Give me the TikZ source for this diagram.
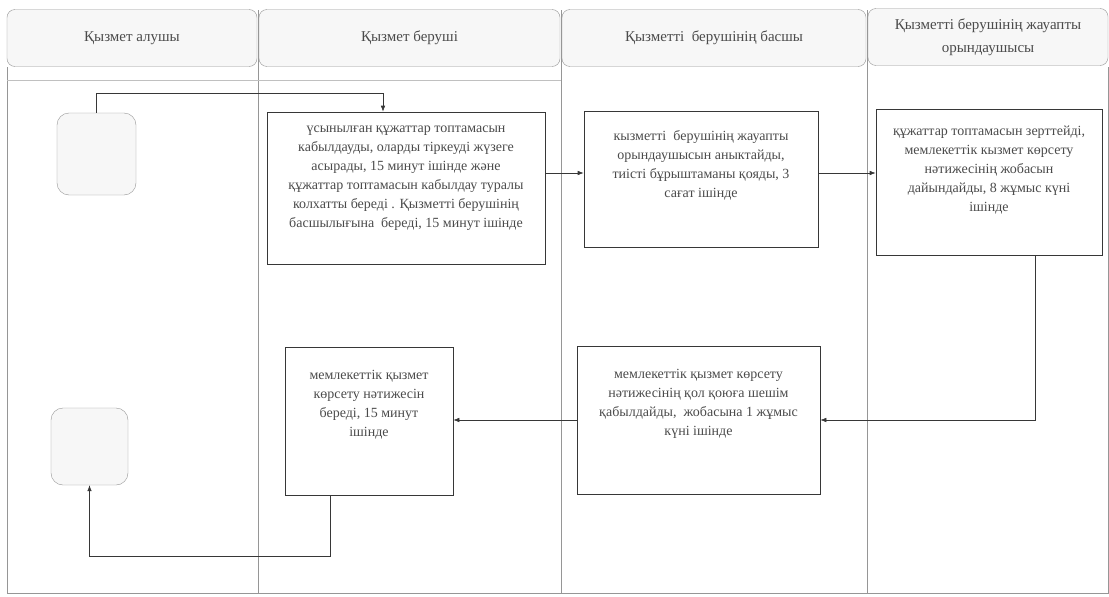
\documentclass[tikz,border=0pt]{standalone}
\usepackage{fontspec}
\setmainfont{Liberation Serif}
\usepackage{tikz}
\usetikzlibrary{arrows.meta,positioning}
\definecolor{laneline}{RGB}{150,150,150}
\definecolor{headfill}{RGB}{247,247,247}
\definecolor{boxline}{RGB}{55,55,55}
\definecolor{textgray}{RGB}{75,75,75}

\begin{document}
\begin{tikzpicture}[x=1pt,y=-1pt,
    lanehead/.style={draw=laneline,fill=headfill,rounded corners=8pt,minimum height=57pt,
      font=\fontsize{15}{23}\selectfont,text=textgray,align=center,inner sep=0pt},
    stepbox/.style={draw=boxline,semithick,fill=white,inner sep=0pt},
    boxtext/.style={font=\fontsize{14}{19}\selectfont,text=textgray,align=center,inner sep=0pt},
    terminal/.style={draw=laneline,fill=headfill,rounded corners=12pt,inner sep=0pt},
    flow/.style={draw=boxline,semithick,-{Latex[length=6pt,width=4.5pt]}}]
        \useasboundingbox (0,0) rectangle (1109,597);
        \fill[white] (0,0) rectangle (1109,597);
        \draw[laneline] (7,67) -- (7,593) -- (1108,593) -- (1108,67);
        \draw[laneline] (258,10) -- (258,593);
        \draw[laneline] (561,10) -- (561,593);
        \draw[laneline] (867,10) -- (867,593);
        \draw[laneline!60] (7,80) -- (561,80);
        \node[lanehead,minimum width=250pt] (h1) at (132,38) {Қызмет алушы};
        \node[lanehead,minimum width=301pt] (h2) at (409.5,38) {Қызмет беруші};
        \node[lanehead,minimum width=304pt] (h3) at (714,38) {Қызметті\ \ берушінің басшы};
        \node[lanehead,minimum width=240pt] (h4) at (988,37) {Қызметті берушінің жауапты\\орындаушысы};
        \node[terminal,minimum width=79pt,minimum height=82pt] (start) at (96.5,154) {};
        \node[terminal,minimum width=77pt,minimum height=77pt] (fin) at (89.5,446.5) {};
        \node[stepbox,minimum width=278pt,minimum height=152pt] (b1) at (406,188) {};
        \node[stepbox,minimum width=234pt,minimum height=136pt] (b2) at (701,179) {};
        \node[stepbox,minimum width=226pt,minimum height=146pt] (b3) at (989,182) {};
        \node[stepbox,minimum width=243pt,minimum height=148pt] (b4) at (698.5,420) {};
        \node[stepbox,minimum width=168pt,minimum height=148pt] (b5) at (369,421) {};
        \node[boxtext] (t1) at ([yshift=10pt]b1.center) {үсынылған құжаттар топтамасын\\кабылдауды, оларды тіркеуді жүзеге\\асырады, 15 минут ішінде және\\құжаттар топтамасын кабылдау туралы\\колхатты береді . Қызметті берушінің\\басшылығына\ \ береді, 15 минут ішінде};
        \node[boxtext] (t2) at ([yshift=14pt]b2.center) {кызметті\ \ берушінің жауапты\\орындаушысын аныктайды,\\тиісті бұрыштаманы қояды, 3\\сағат ішінде};
        \node[boxtext] (t3) at ([yshift=12pt]b3.center) {құжаттар топтамасын зерттейді,\\мемлекеттік кызмет көрсету\\нәтижесінің жобасын\\дайындайды, 8 жұмыс күні\\ішінде};
        \node[boxtext] (t4) at ([yshift=16pt]b4.center) {мемлекеттік қызмет көрсету\\нәтижесінің қол қоюға шешім\\қабылдайды,\ \ жобасына 1 жұмыс\\күні ішінде};
        \node[boxtext] (t5) at ([yshift=16pt]b5.center) {мемлекеттік қызмет\\көрсету нәтижесін\\береді, 15 минут\\ішінде};
        \draw[flow] (start.north) -- ++(0,-20) -| ([xshift=-23pt]b1.north);
        \draw[flow] ([yshift=6pt]b2.west -| b1.east) -- ([yshift=6pt]b2.west);
        \draw[flow] ([yshift=6pt]b2.east) -- ([yshift=6pt]b2.east -| b3.west);
        \draw[flow] ([xshift=46pt]b3.south) |- (b4.east);
        \draw[flow] (b4.west) -- (b4.west -| b5.east);
        \draw[flow] ([xshift=-39pt]b5.south) -- ++(0,61) -| (fin.south);
      \end{tikzpicture}
\end{document}
